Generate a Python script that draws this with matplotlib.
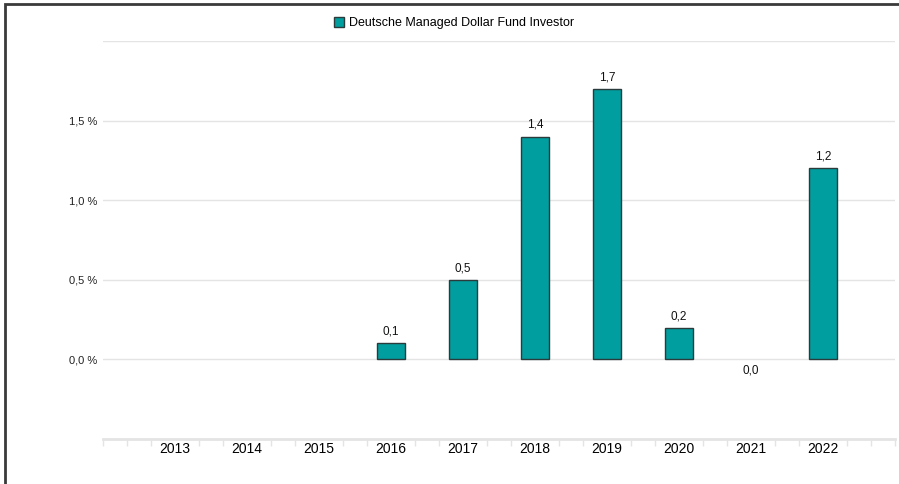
import matplotlib.pyplot as plt
from matplotlib.patches import Rectangle
import numpy as np

years = [2013, 2014, 2015, 2016, 2017, 2018, 2019, 2020, 2021, 2022]
values = [None, None, None, 0.1, 0.5, 1.4, 1.7, 0.2, 0.0, 1.2]
series_name = "Deutsche Managed Dollar Fund Investor"
ytick_vals = [0.0, 0.5, 1.0, 1.5]

bar_color = "#009e9e"
edge_color = "#2b3a3a"
grid_color = "#e4e4e4"

plt.rcParams['font.family'] = ['Liberation Sans', 'DejaVu Sans']

fig = plt.figure(figsize=(8.99, 4.84), dpi=100)
ax = fig.add_axes([103 / 899, 45 / 484, 792 / 899, 398 / 484])

x = np.array(years)
for xi, v in zip(x, values):
    if v is None:
        continue
    lbl = f"{v:.1f}".replace(".", ",")
    if v > 0:
        ax.bar(xi, v, width=0.4, color=bar_color, edgecolor=edge_color, linewidth=1.0, zorder=3)
        ax.annotate(lbl, (xi, v), xytext=(0, 4), textcoords="offset points",
                    ha="center", va="bottom", fontsize=8.5, color="#111111")
    else:
        # zero bar: nothing visible, label goes below the line
        ax.annotate(lbl, (xi, v), xytext=(0, -4), textcoords="offset points",
                    ha="center", va="top", fontsize=8.5, color="#111111")

ax.set_xlim(2012, 2023)
ax.set_ylim(-0.5, 2.0)

ax.set_yticks(ytick_vals)
ax.set_yticklabels([f"{t:.1f} %".replace(".", ",") for t in ytick_vals], fontsize=8, color="#222222")
ax.tick_params(axis="y", length=0, pad=4)
for t in ytick_vals + [2.0]:
    ax.axhline(t, color=grid_color, linewidth=1.0, zorder=1)

# major labels at years, minor ticks every third of a year
ax.set_xticks(years)
ax.set_xticklabels([str(y) for y in years], fontsize=8, color="#222222")
ax.tick_params(axis="x", which="major", length=0, pad=2)
minor = [m for m in np.arange(2012, 2023.01, 1 / 3) if abs(m - round(m)) > 1e-6 or round(m) not in years]
ax.set_xticks(minor, minor=True)
ax.tick_params(axis="x", which="minor", length=5, width=1.0, color=grid_color)

for s in ["top", "right", "left"]:
    ax.spines[s].set_visible(False)
ax.spines["bottom"].set_color(grid_color)
ax.spines["bottom"].set_linewidth(2)
ax.spines["bottom"].set_position(("data", -0.5))

# legend
fig.legend(handles=[Rectangle((0, 0), 1, 1, facecolor=bar_color, edgecolor=edge_color, linewidth=1.0)],
           labels=[series_name], loc="center", bbox_to_anchor=(454 / 899, 1 - 23 / 484),
           frameon=False, fontsize=9, handlelength=0.8, handleheight=0.8, handletextpad=0.4)

# outer border
fig.patches.append(Rectangle((5 / 899, -0.1), 1.2, 1.1 - 4 / 484, transform=fig.transFigure,
                             fill=False, edgecolor="#3a3a3a", linewidth=2))

fig.savefig("out.png", dpi=100)
